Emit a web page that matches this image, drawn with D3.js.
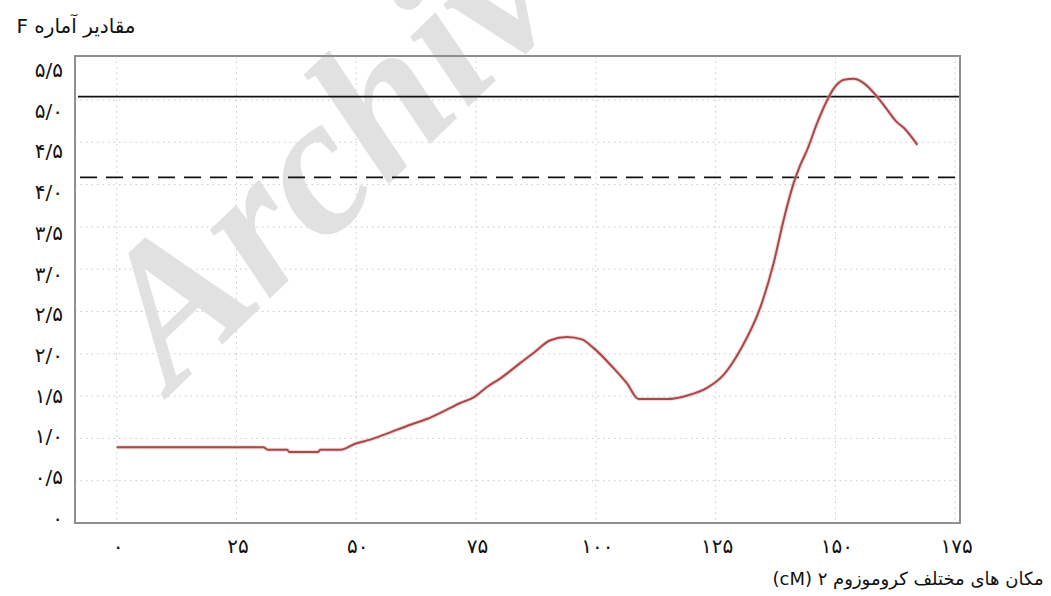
<!DOCTYPE html>
<html>
<head>
<meta charset="utf-8">
<script src="https://cdn.jsdelivr.net/npm/d3@7/dist/d3.min.js"></script>
<style>
  html, body { margin: 0; padding: 0; background: #fff; }
  svg { display: block; }
  text { font-family: "DejaVu Sans", "Noto Sans", sans-serif; }
</style>
</head>
<body>
<svg id="chart" width="1051" height="596"></svg>
<script>
// ---- data ----
const positions = [0, 30.6, 31.6, 35.6, 36, 42, 42.5, 46.7, 49.8, 52.9, 56.4, 61.3, 64.7, 68.2, 71.7, 74.5, 77.3, 80.1, 84.2, 87.0, 90.5, 94.0, 97.1, 99.5, 103.7, 106.5, 108.9, 114.9, 119.0, 123.2, 126.7, 130.2, 134.4, 137.1, 139.2, 141.3, 142.7, 144.1, 146.2, 148.3, 149.7, 151.8, 153.8, 155.9, 158.7, 160.8, 162.9, 164.3, 167.1];
const fValues  = [0.894, 0.894, 0.866, 0.866, 0.839, 0.839, 0.866, 0.866, 0.937, 0.985, 1.056, 1.162, 1.229, 1.32, 1.418, 1.485, 1.608, 1.71, 1.89, 2.01, 2.16, 2.20, 2.17, 2.07, 1.83, 1.65, 1.466, 1.466, 1.505, 1.596, 1.753, 2.05, 2.56, 3.07, 3.585, 4.02, 4.235, 4.41, 4.73, 5.00, 5.14, 5.24, 5.25, 5.20, 5.04, 4.885, 4.735, 4.67, 4.47];
const thresholdSolid  = 5.04;
const thresholdDashed = 4.085;
const xTicks = [0, 25, 50, 75, 100, 125, 150, 175];
const xTickLabels = ["۰", "۲۵", "۵۰", "۷۵", "۱۰۰", "۱۲۵", "۱۵۰", "۱۷۵"];
const yTicks = [0, 0.5, 1, 1.5, 2, 2.5, 3, 3.5, 4, 4.5, 5, 5.5];
const yTickLabels = ["۰", "۰/۵", "۱/۰", "۱/۵", "۲/۰", "۲/۵", "۳/۰", "۳/۵", "۴/۰", "۴/۵", "۵/۰", "۵/۵"];
const yTitle = "مقادیر آماره F";
const xTitle = "مکان های مختلف کروموزوم ۲ (cM)";
const watermark = "Archive";

// ---- layout ----
const svg = d3.select("#chart");
const pLeft = 75, pRight = 960, pTop = 56, pBottom = 523;

const x = d3.scaleLinear().domain([-8.7, 176]).range([pLeft, pRight]);
const y = d3.scaleLinear().domain([0, 5.52]).range([pBottom, pTop]);
// tick labels in the original are spaced slightly differently from the grid
const yLabel = d3.scaleLinear().domain([0, 5.5]).range([518, 70]);

// grid
const grid = svg.append("g");
grid.selectAll("line.v").data(xTicks).join("line")
  .attr("x1", d => x(d)).attr("x2", d => x(d))
  .attr("y1", pTop).attr("y2", pBottom)
  .attr("stroke", "#c8c8c8").attr("stroke-width", 1)
  .attr("stroke-dasharray", "1.5,4");
grid.selectAll("line.h").data(yTicks.filter(d => d > 0 && d < 5.5)).join("line")
  .attr("x1", pLeft).attr("x2", pRight)
  .attr("y1", d => y(d)).attr("y2", d => y(d))
  .attr("stroke", "#c8c8c8").attr("stroke-width", 1)
  .attr("stroke-dasharray", "1.5,4");

// watermark
svg.append("text")
  .attr("transform", "translate(172,393) rotate(-44)")
  .style("font-family", "'Liberation Serif', serif")
  .style("font-weight", "bold")
  .style("font-style", "italic")
  .style("font-size", "198px")
  .attr("fill", "#e1e1e1")
  .text(watermark);

// threshold lines
svg.append("line")
  .attr("x1", pLeft + 3).attr("x2", pRight)
  .attr("y1", y(thresholdSolid)).attr("y2", y(thresholdSolid))
  .attr("stroke", "#111").attr("stroke-width", 1.6);
svg.append("line")
  .attr("x1", pLeft + 5).attr("x2", pRight)
  .attr("y1", y(thresholdDashed)).attr("y2", y(thresholdDashed))
  .attr("stroke", "#111").attr("stroke-width", 1.8)
  .attr("stroke-dasharray", "17,9");

// curve
const pts = positions.map((p, i) => [p, fValues[i]]);
const line = d3.line().x(d => x(d[0])).y(d => y(d[1])).curve(d3.curveMonotoneX);
svg.append("path").datum(pts)
  .attr("d", line).attr("fill", "none")
  .attr("stroke", "#e8b0b0").attr("stroke-width", 4).attr("stroke-opacity", 0.5);
svg.append("path").datum(pts)
  .attr("d", line).attr("fill", "none")
  .attr("stroke", "#a84848").attr("stroke-width", 2)
  .attr("stroke-linejoin", "round");

// frame
svg.append("rect")
  .attr("x", pLeft).attr("y", pTop)
  .attr("width", pRight - pLeft).attr("height", pBottom - pTop)
  .attr("fill", "none").attr("stroke", "#8f8f8f").attr("stroke-width", 2);

// y axis labels
const yAxis = d3.axisLeft(yLabel).tickValues(yTicks)
  .tickFormat((d, i) => yTickLabels[i]).tickSize(0).tickPadding(0);
const gy = svg.append("g").attr("transform", "translate(63,0)").call(yAxis);
gy.select(".domain").remove();
gy.selectAll("text").style("font-size", "20px").attr("fill", "#111")
  .style("letter-spacing", "1.5px")
  .style("font-family", "'DejaVu Sans', sans-serif");

// x axis labels
const xAxis = d3.axisBottom(x).tickValues(xTicks)
  .tickFormat((d, i) => xTickLabels[i]).tickSize(0).tickPadding(0);
const gx = svg.append("g").attr("transform", "translate(1,539)").call(xAxis);
gx.select(".domain").remove();
gx.selectAll("text").style("font-size", "20px").attr("fill", "#111")
  .style("letter-spacing", "1px");

// titles
svg.append("text")
  .attr("x", 76).attr("y", 33)
  .attr("text-anchor", "middle")
  .style("direction", "rtl")
  .style("font-size", "20px").attr("fill", "#111")
  .text(yTitle);
svg.append("text")
  .attr("x", 908).attr("y", 585)
  .attr("text-anchor", "middle")
  .style("direction", "rtl")
  .style("font-size", "18px").attr("fill", "#111")
  .text(xTitle);
</script>
</body>
</html>
